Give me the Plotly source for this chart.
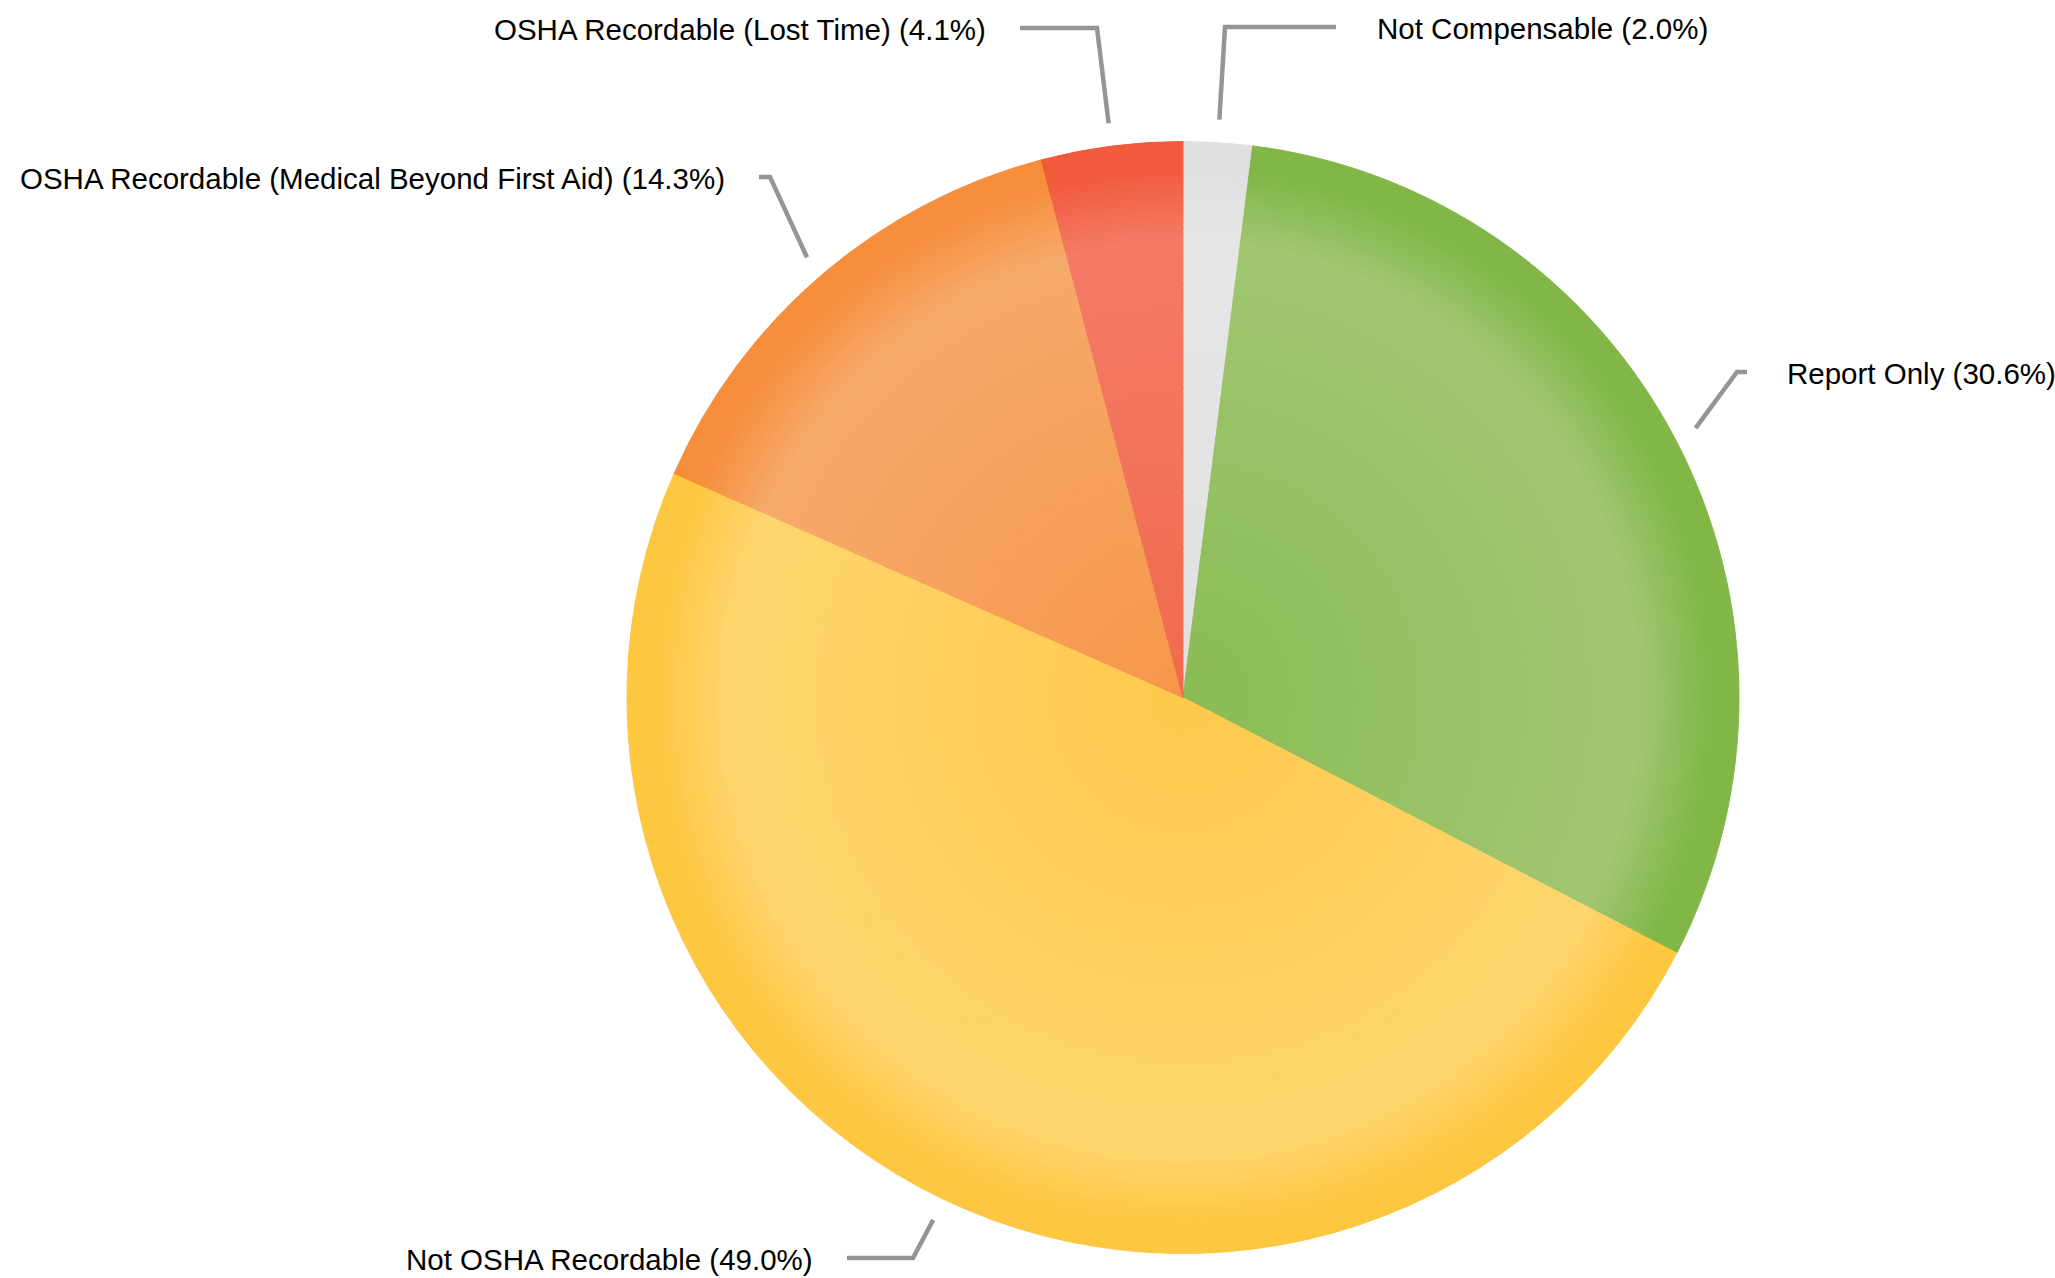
import numpy as np
import plotly.graph_objects as go

# ---------------- data ----------------
categories = [
    "Not Compensable",
    "Report Only",
    "Not OSHA Recordable",
    "OSHA Recordable (Medical Beyond First Aid)",
    "OSHA Recordable (Lost Time)",
]
percentages = [2.0, 30.6, 49.0, 14.3, 4.1]

# colour stops per slice: centre, light band, rim
base_colors = ["#e0e0e0", "#8abc54", "#fec94c", "#f6964a", "#f26a4e"]
light_colors = ["#e6e6e6", "#a1c672", "#fed56f", "#f6aa6b", "#f37b66"]
edge_colors = ["#e0e0e0", "#82b747", "#fec740", "#f68e3c", "#f25a3c"]

# ---------------- layout constants (pixels) ----------------
W, H = 2055, 1278
CX, CY, R = 1183, 697.5, 556
CONNECTOR_R = R + 23
FONT_SIZE = 29.5

# label layout: text anchor x, side, connector bend point, horizontal end x, row y
label_layout = {
    "Not Compensable": dict(side="right", text_x=1377, y=27, bend_x=1225, end_x=1336),
    "Report Only": dict(side="right", text_x=1787, y=372, bend_x=1737, end_x=1747),
    "Not OSHA Recordable": dict(side="left", text_x=813, y=1258, bend_x=913, end_x=847),
    "OSHA Recordable (Medical Beyond First Aid)": dict(side="left", text_x=725, y=177, bend_x=770, end_x=759),
    "OSHA Recordable (Lost Time)": dict(side="left", text_x=986, y=28, bend_x=1097, end_x=1020),
}


def hex_to_rgb(h):
    h = h.lstrip("#")
    return np.array([int(h[i:i + 2], 16) for i in (0, 2, 4)], dtype=float)


def grad_color(i, t):
    stops = [(0.0, base_colors[i]), (0.82, light_colors[i]), (0.95, edge_colors[i]), (1.0, edge_colors[i])]
    for (t0, c0), (t1, c1) in zip(stops[:-1], stops[1:]):
        if t <= t1:
            f = 0 if t1 == t0 else (t - t0) / (t1 - t0)
            c = hex_to_rgb(c0) * (1 - f) + hex_to_rgb(c1) * f
            return "rgb(%d,%d,%d)" % tuple(np.round(c))
    c = hex_to_rgb(stops[-1][1])
    return "rgb(%d,%d,%d)" % tuple(c)


fig = go.Figure()

# concentric pie layers to imitate the radial gradient
N = 80
for k in range(N):
    r = R * (1 - k / N)
    t = max(0.0, (r - R / (2 * N)) / R)
    cols = [grad_color(i, t) for i in range(len(categories))]
    fig.add_trace(go.Pie(
        labels=categories,
        values=percentages,
        sort=False,
        direction="clockwise",
        rotation=0,
        textinfo="none",
        hoverinfo="label+percent" if k == 0 else "skip",
        marker=dict(colors=cols, line=dict(color=cols, width=1)),
        domain=dict(x=[(CX - r) / W, (CX + r) / W],
                    y=[(H - CY - r) / H, (H - CY + r) / H]),
        showlegend=False,
    ))

# connectors and labels, anchored to the slice mid-angles
total = sum(percentages)
cum = 0.0
annotations = []
for cat, val in zip(categories, percentages):
    mid = (cum + val / 2) / total * 2 * np.pi
    cum += val
    sx = CX + CONNECTOR_R * np.sin(mid)
    sy = CY - CONNECTOR_R * np.cos(mid)
    L = label_layout[cat]
    xs = [sx, L["bend_x"], L["end_x"]]
    ys = [sy, L["y"], L["y"]]
    fig.add_trace(go.Scatter(
        x=xs, y=ys, mode="lines",
        line=dict(color="#959595", width=4.5),
        hoverinfo="skip", showlegend=False,
    ))
    annotations.append(dict(
        x=L["text_x"], y=L["y"] + 1, xref="x", yref="y",
        text="%s (%.1f%%)" % (cat, val),
        showarrow=False,
        borderpad=0, borderwidth=0,
        xanchor="left" if L["side"] == "right" else "right",
        yanchor="middle",
        font=dict(family="Liberation Sans, Arial, sans-serif", size=FONT_SIZE, color="#000000"),
    ))

fig.update_layout(
    width=W, height=H,
    margin=dict(l=0, r=0, t=0, b=0),
    paper_bgcolor="white",
    plot_bgcolor="rgba(0,0,0,0)",
    xaxis=dict(range=[0, W], visible=False, fixedrange=True),
    yaxis=dict(range=[H, 0], visible=False, fixedrange=True),
    annotations=annotations,
    showlegend=False,
)

fig.write_html(
    "out.html",
    config={"displayModeBar": False},
    post_script="document.body.style.margin='0';document.body.style.overflow='hidden';",
)
